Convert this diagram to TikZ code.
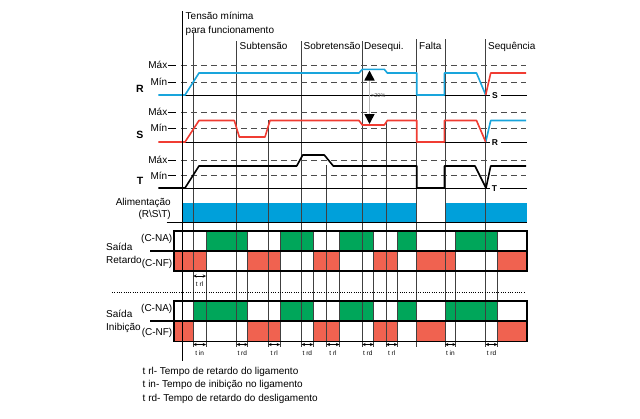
\documentclass[tikz,border=0pt]{standalone}
\usepackage{fontspec}
\setmainfont{Liberation Sans}
\usetikzlibrary{arrows.meta, arrows}

\definecolor{faseazul}{RGB}{25,165,220}
\definecolor{fasevermelha}{RGB}{240,60,50}
\definecolor{barazul}{RGB}{0,160,218}
\definecolor{naverde}{RGB}{0,166,90}
\definecolor{nfvermelho}{RGB}{240,98,80}

\begin{document}
\begin{tikzpicture}[x=1pt,y=-1pt,
    every node/.style={inner sep=0pt, font=\fontsize{10}{12}\selectfont},
    nivel/.style={dash pattern=on 6pt off 4pt, line width=0.9pt, black!70},
    evento/.style={line width=0.6pt, black!75},
    base/.style={line width=0.8pt},
    sinal/.style={line width=1.6pt, line join=round},
    caixa/.style={line width=1.6pt},
    tempo/.style={stealth-stealth, line width=0.5pt},
    rotulo/.style={font=\fontsize{6.5}{7}\selectfont},
    fase/.style={font=\bfseries\fontsize{10.5}{12}\selectfont}]
    \useasboundingbox (0,0) rectangle (640,418);

    % alimentacao e saidas
    \fill[barazul] (183.3,203) rectangle (416.7,221.5);
    \fill[barazul] (445,203) rectangle (526.7,221.5);
    \foreach \a/\b in {206/247.7, 280/313, 339.3/373.3, 397.3/416.7, 455.7/497.3}
        \fill[naverde] (\a,231) rectangle (\b,251);
    \foreach \a/\b in {174/206, 247.7/280, 313/339.3, 373.3/397.3, 416.7/455.7, 497.3/526.7}
        \fill[nfvermelho] (\a,251) rectangle (\b,271);
    \foreach \a/\b in {193.3/247.7, 280/313, 339.3/373.3, 397.3/416.7, 445/497.3}
        \fill[naverde] (\a,301) rectangle (\b,321);
    \foreach \a/\b in {174/193.3, 247.7/280, 313/339.3, 373.3/397.3, 416.7/445, 497.3/526.7}
        \fill[nfvermelho] (\a,321) rectangle (\b,341.3);

    % linhas dos eventos
    \draw[evento] (193.3,33) -- (193.3,347);
    \foreach \x in {236.7, 301.7, 362.3} \draw[evento] (\x,41) -- (\x,347);
    \foreach \x in {416.7, 445, 485.7} \draw[evento] (\x,39) -- (\x,347);
    \draw[evento] (268.3,120) -- (268.3,347);
    \draw[evento] (326.7,165) -- (326.7,347);
    \draw[evento] (386,121) -- (386,347);
    \foreach \x in {206, 247.7, 280, 313, 339.3, 373.3, 397.3, 455.7, 497.3}
        \draw[evento] (\x,231) -- (\x,347);

    % niveis Max / Min
    \foreach \y/\t in {65/Máx, 82/Mín, 112/Máx, 128/Mín, 160/Máx, 175.5/Mín} {
        \node[anchor=east] at (167.5,\y) {\t};
        \draw[base] (168,\y) -- (175.5,\y);
        \draw[nivel] (181,\y) -- (526,\y);
    }

    % linhas de base
    \node[fase] (fr) at (140,88.5) {R};
    \node[fase] (fs) at (140,135) {S};
    \node[fase] (ft) at (140,181) {T};
    \node[font=\bfseries\fontsize{8.5}{9}\selectfont] (fs2) at (495,96) {S};
    \node[font=\bfseries\fontsize{8.5}{9}\selectfont] (fr2) at (495,143) {R};
    \node[font=\bfseries\fontsize{8.5}{9}\selectfont] (ft2) at (494.5,188.5) {T};
    \draw[base] (182.3,95) -- (490,95);
    \draw[base] (fs2.east) ++(2.5,-1) -- (526.5,95);
    \draw[base] (182.3,142) -- (490,142);
    \draw[base] (fr2.east) ++(2.5,-1) -- (526.5,142);
    \draw[base] (182.3,188) -- (490,188);
    \draw[base] (ft2.east) ++(2.5,-0.5) -- (526.5,188);

    % sinais das fases
    \draw[sinal, faseazul] (158.3,95) -- (185,95) -- (199,73) -- (359,73) -- (362.3,69.3)
        -- (384.3,69.3) -- (387.3,73) -- (416.7,73) -- (416.7,95) -- (444.3,95)
        -- (444.3,73) -- (476.5,73) -- (485.7,95);
    \draw[sinal, faseazul] (485.7,142) -- (490.7,120.5) -- (526,120.5);
    \draw[sinal, fasevermelha] (158.3,142) -- (185,142) -- (199,120.5) -- (234.3,120.5)
        -- (239.3,137) -- (265,137) -- (270,120.5) -- (359,120.5) -- (362.3,125)
        -- (384.3,125) -- (387.3,120.5) -- (416.7,120.5) -- (416.7,142) -- (444.3,142)
        -- (444.3,120.5) -- (476.5,120.5) -- (485.7,142);
    \draw[sinal, fasevermelha] (485.7,95) -- (490.7,73) -- (526,73);
    \draw[sinal] (158.3,188) -- (185,188) -- (199,166) -- (296.7,166) -- (302.7,155)
        -- (324.3,155) -- (333.3,166) -- (416.7,166) -- (416.7,188) -- (444.3,188)
        -- (444.3,166) -- (475,166) -- (486,188) -- (490.7,166) -- (526,166);

    % desequilibrio
    \coordinate (d1) at (369.5,70.5);
    \coordinate (d2) at (369.5,124);
    \draw[gray!55, line width=1.6pt, {Triangle[length=10pt,width=10pt,color=black]}-{Triangle[length=10pt,width=10pt,color=black]}] (d1) -- (d2);
    \node[anchor=west, font=\fontsize{5.5}{6}\selectfont, black!70] (pct) at (371,96) {>20\%};

    % eixo e caixas
    \draw[line width=1.6pt] (182.3,11) -- (182.3,361);
    \draw[line width=1.2pt] (166.7,222.5) -- (526.7,222.5);
    \draw[caixa] (174,231) rectangle (526.7,271);
    \draw[caixa] (150,251) -- (526.7,251);
    \draw[caixa] (174,301) rectangle (526.7,341.3);
    \draw[caixa] (150,321) -- (526.7,321);
    \draw[line width=0.9pt, dash pattern=on 1pt off 1.3pt] (112,292) -- (525,292);

    % textos do topo
    \node[anchor=base west] (tmin1) at (185.5,19.3) {Tensão mínima};
    \node[anchor=base west] (tmin2) at (185.5,33.5) {para funcionamento};
    \node[anchor=base west] (sub) at (239.5,49.3) {Subtensão};
    \node[anchor=base west] (sobre) at (303.5,49.3) {Sobretensão};
    \node[anchor=base west] (deseq) at (364,49.3) {Desequi.};
    \node[anchor=base west] (falta) at (419,49.3) {Falta};
    \node[anchor=base west] (seq) at (488,49.3) {Sequência};

    % textos da esquerda
    \node[anchor=base east] (alim) at (171,205.3) {Alimentação};
    \node[anchor=base east] (rst) at (171,217.6) {(R\textbackslash S\textbackslash T)};
    \node[anchor=base west] (sret1) at (106,250.3) {Saída};
    \node[anchor=base west] (sret2) at (106,263.3) {Retardo};
    \node[anchor=base east] (rna) at (172.5,241.8) {(C-NA)};
    \node[anchor=base east] (rnf) at (172.5,266.5) {(C-NF)};
    \node[anchor=base west] (sini1) at (106,317) {Saída};
    \node[anchor=base west] (sini2) at (106,330) {Inibição};
    \node[anchor=base east] (ina) at (172.5,311.4) {(C-NA)};
    \node[anchor=base east] (inf) at (172.5,335.3) {(C-NF)};

    % tempos
    \coordinate (rla) at (193.3,276);
    \coordinate (rlb) at (206,276);
    \draw[tempo] (rla) -- (rlb);
    \node[rotulo, anchor=base] (rlt) at (199.6,286.5) {t rl};
    \foreach \a/\b/\t [count=\i] in {193.3/206/t in, 236.7/247.7/t rd, 268.3/280/t rl,
        301.7/313/t rd, 326.7/339.3/t rl, 362.3/373.3/t rd, 386/397.3/t rl,
        445/455.7/t in, 485.7/497.3/t rd} {
        \coordinate (ta\i) at (\a,344.5);
        \coordinate (tb\i) at (\b,344.5);
        \draw[tempo] (ta\i) -- (tb\i);
        \node[rotulo, anchor=base] (tl\i) at ({(\a+\b)/2},355.8) {\t};
    }

    % legenda
    \node[anchor=base west] (leg1) at (142.5,374.3) {t rl- Tempo de retardo do ligamento};
    \node[anchor=base west] (leg2) at (142.5,387.6) {t in- Tempo de inibição no ligamento};
    \node[anchor=base west] (leg3) at (142.5,401.9) {t rd- Tempo de retardo do desligamento};
\end{tikzpicture}
\end{document}
